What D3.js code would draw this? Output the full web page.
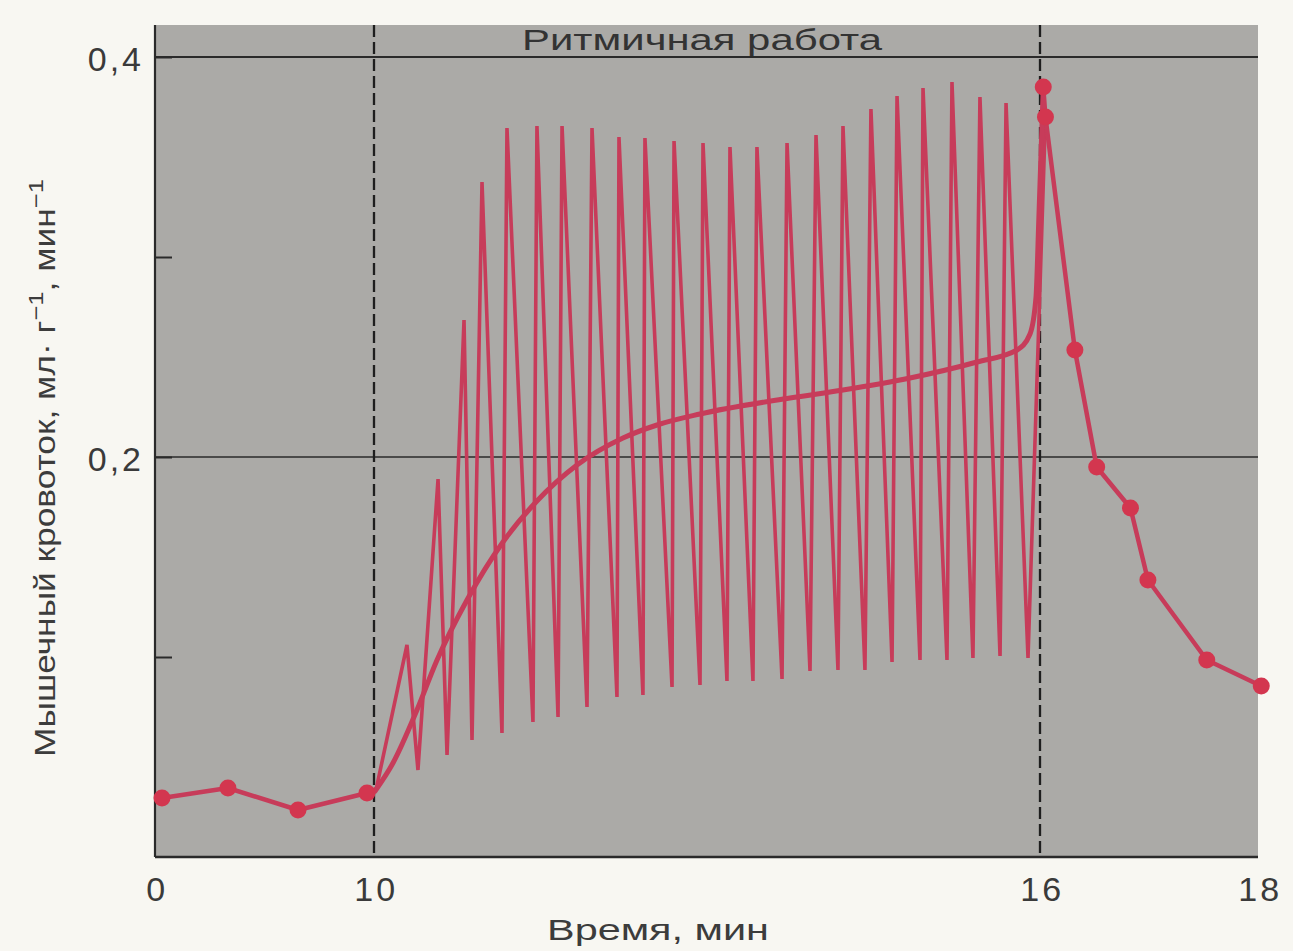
<!DOCTYPE html>
<html>
<head>
<meta charset="utf-8">
<script src="https://cdn.jsdelivr.net/npm/d3@7"></script>
<style>
  html, body { margin: 0; padding: 0; background: #f8f7f2; }
  svg { display: block; }
  text { font-family: "Liberation Sans", Arial, sans-serif; fill: #3c3c3c; }
</style>
</head>
<body>
<svg id="chart" width="1293" height="951"></svg>
<script>
// ---------------- data ----------------
const xTickValues = [0, 10, 16, 18];
const xTickLabels = ["0", "10", "16", "18"];
const yTickValues = [0.1, 0.2, 0.3, 0.4];
const yTickLabels = ["", "0,2", "", "0,4"];
const yGridValues = [0.2, 0.4];
const phaseMarks = [10, 16];
const phaseLabel = "Ритмичная работа";
const xTitle = "Время, мин";

// rest before work (min, ml/g/min)
const baseTime = [0.32, 3.33, 6.53, 9.68];
const baseFlow = [0.0295, 0.0345, 0.0235, 0.032];

// rhythmic contractions: peaks and troughs
const zigTime = [10.02, 10.297, 10.396, 10.577, 10.658, 10.811, 10.883, 10.973, 11.153, 11.198,
  11.432, 11.468, 11.658, 11.694, 11.919, 11.964, 12.189, 12.207, 12.423, 12.441,
  12.685, 12.703, 12.937, 12.964, 13.180, 13.207, 13.414, 13.450, 13.676, 13.721,
  13.928, 13.982, 14.180, 14.225, 14.423, 14.477, 14.667, 14.712, 14.919, 14.946,
  15.162, 15.207, 15.396, 15.459, 15.640, 15.694, 15.892, 16.05];
const zigFlow = [0.034, 0.106, 0.0435, 0.189, 0.051, 0.2685, 0.0585, 0.3375, 0.062, 0.3645,
  0.0675, 0.3655, 0.070, 0.3655, 0.075, 0.3645, 0.080, 0.360, 0.081, 0.3595,
  0.085, 0.358, 0.086, 0.357, 0.088, 0.355, 0.088, 0.355, 0.089, 0.357,
  0.093, 0.361, 0.0935, 0.3655, 0.0935, 0.374, 0.0975, 0.3805, 0.0985, 0.3845,
  0.0985, 0.3875, 0.0995, 0.380, 0.1005, 0.377, 0.0995, 0.37];

// mean flow during work
const meanTime = [10.01, 10.171, 10.387, 10.568, 10.838, 11.162, 11.468, 11.829, 12.243, 12.55,
  12.937, 13.748, 14.225, 14.829, 15.432, 15.793, 15.91, 15.964, 15.99, 16.03];
const meanFlow = [0.033, 0.047, 0.0735, 0.0985, 0.1285, 0.1575, 0.178, 0.196, 0.2095, 0.2160,
  0.2215, 0.2295, 0.2335, 0.2395, 0.2475, 0.2535, 0.2615, 0.28, 0.32, 0.385];

// recovery after work
const postTime = [16.03, 16.05, 16.32, 16.52, 16.83, 16.99, 17.53, 18.03];
const postFlow = [0.385, 0.37, 0.2535, 0.195, 0.1745, 0.1385, 0.0985, 0.0855];

// ---------------- layout ----------------
const svg = d3.select("#chart");
const plotLeft = 155, plotRight = 1258, plotTop = 25, plotBottom = 857;
const red = "#c73c5a";
const redDot = "#d3364f";

const x = d3.scaleLinear().domain([0, 10, 16, 18]).range([plotLeft, 374, 1040, plotRight]);
const y = d3.scaleLinear().domain([0, 0.4]).range([plotBottom, 57]);

// stretch a text node horizontally so it spans a given width (wide typeface look)
function fitText(sel, cx, cy, width, rotate) {
  const w = sel.node().getComputedTextLength();
  const s = width / w;
  sel.attr("x", 0).attr("y", 0)
    .attr("transform", `translate(${cx},${cy})${rotate ? " rotate(" + rotate + ")" : ""} scale(${s},1)`);
}

// plot background
svg.append("rect")
  .attr("x", plotLeft).attr("y", plotTop)
  .attr("width", plotRight - plotLeft).attr("height", plotBottom - plotTop)
  .attr("fill", "#abaaa7");

// grid lines
svg.append("g").selectAll("line").data(yGridValues).join("line")
  .attr("x1", plotLeft).attr("x2", plotRight)
  .attr("y1", d => y(d)).attr("y2", d => y(d))
  .attr("stroke", "#2a2a2a").attr("stroke-width", d => d === 0.4 ? 2.2 : 1.6);

// phase dashed lines
svg.append("g").selectAll("line").data(phaseMarks).join("line")
  .attr("x1", d => x(d)).attr("x2", d => x(d))
  .attr("y1", plotTop).attr("y2", plotBottom)
  .attr("stroke", "#1e1e1e").attr("stroke-width", 2.3)
  .attr("stroke-dasharray", "12,5");

// phase label
const pl = svg.append("text")
  .attr("text-anchor", "middle")
  .attr("font-size", 29)
  .style("fill", "#333")
  .text(phaseLabel);
fitText(pl, 702, 50, 360);

// y axis
const yAxis = d3.axisLeft(y)
  .tickValues(yTickValues)
  .tickSize(-17)
  .tickPadding(11)
  .tickFormat((d, i) => yTickLabels[i]);
const gy = svg.append("g").attr("transform", `translate(${plotLeft},0)`).call(yAxis);
gy.select(".domain").attr("stroke", "#2a2a2a").attr("stroke-width", 2.2)
  .attr("d", `M0,${plotTop}V${plotBottom}`);
gy.selectAll(".tick line").attr("stroke", "#2a2a2a").attr("stroke-width", 2);
gy.selectAll(".tick text").attr("font-size", 34).attr("letter-spacing", 3).attr("dy", "0.4em")
  .attr("font-family", "Liberation Sans, Arial, sans-serif").style("fill", "#3a3a3a");

// x axis
const xAxis = d3.axisBottom(x)
  .tickValues(xTickValues)
  .tickSize(0)
  .tickPadding(20)
  .tickFormat((d, i) => xTickLabels[i]);
const gx = svg.append("g").attr("transform", `translate(0,${plotBottom})`).call(xAxis);
gx.select(".domain").attr("stroke", "#2a2a2a").attr("stroke-width", 2.5)
  .attr("d", `M${plotLeft},0H${plotRight}`);
gx.selectAll(".tick text").attr("font-size", 34).attr("letter-spacing", 3).attr("dx", "0.05em")
  .attr("font-family", "Liberation Sans, Arial, sans-serif").style("fill", "#3a3a3a");

// x title
const xt = svg.append("text")
  .attr("text-anchor", "middle")
  .attr("font-size", 29)
  .text(xTitle);
fitText(xt, 658, 940, 222);

// y title
const yt = svg.append("text")
  .attr("text-anchor", "middle")
  .attr("font-size", 29);
yt.append("tspan").text("Мышечный кровоток, мл· г");
yt.append("tspan").attr("baseline-shift", "super").attr("font-size", 21).text("−1");
yt.append("tspan").text(", мин");
yt.append("tspan").attr("baseline-shift", "super").attr("font-size", 21).text("−1");
fitText(yt, 55, 468, 578, -90);

// ---------------- series ----------------
const pts = (t, v) => t.map((d, i) => [d, v[i]]);
const linear = d3.line().x(d => x(d[0])).y(d => y(d[1]));
const smooth = d3.line().x(d => x(d[0])).y(d => y(d[1])).curve(d3.curveMonotoneX);

const basePts = pts(baseTime, baseFlow);
const zigPts = pts(zigTime, zigFlow);
const meanPts = pts(meanTime, meanFlow);
const postPts = pts(postTime, postFlow);

// zigzag
svg.append("path")
  .attr("d", linear(zigPts))
  .attr("fill", "none").attr("stroke", red)
  .attr("stroke-width", 3.6).attr("stroke-linejoin", "miter").attr("stroke-miterlimit", 3);

// mean curve
svg.append("path")
  .attr("d", smooth(meanPts))
  .attr("fill", "none").attr("stroke", red).attr("stroke-width", 5)
  .attr("stroke-linecap", "round");

// baseline + recovery lines
svg.append("path")
  .attr("d", linear(basePts.concat([zigPts[0]])))
  .attr("fill", "none").attr("stroke", red).attr("stroke-width", 4.5)
  .attr("stroke-linejoin", "round");
svg.append("path")
  .attr("d", linear(postPts))
  .attr("fill", "none").attr("stroke", red).attr("stroke-width", 4.5)
  .attr("stroke-linejoin", "round");

// dots
svg.append("g").selectAll("circle").data(basePts.concat(postPts)).join("circle")
  .attr("cx", d => x(d[0])).attr("cy", d => y(d[1]))
  .attr("r", 8.5).attr("fill", redDot);
</script>
</body>
</html>
